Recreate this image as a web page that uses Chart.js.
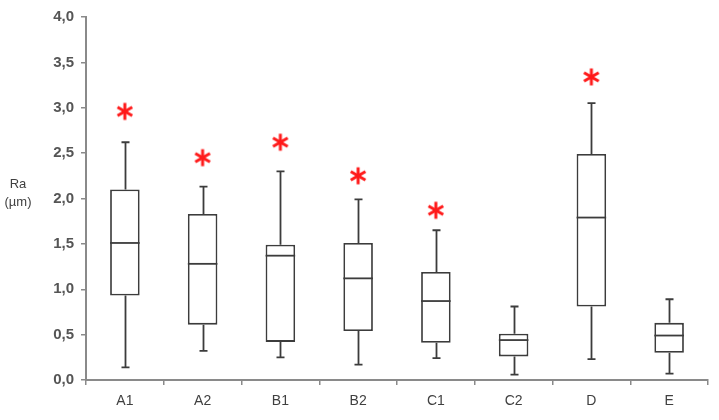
<!DOCTYPE html>
<html>
<head>
<meta charset="utf-8">
<script src="https://cdn.jsdelivr.net/npm/chart.js@4/dist/chart.umd.min.js"></script>
<style>
  html, body { margin: 0; padding: 0; background: #fff; }
  #wrap { width: 719px; height: 420px; }
</style>
</head>
<body>
<div id="wrap"><canvas id="chart" width="719" height="420"></canvas></div>
<script>
// Dados (Ra em µm)
const categorias = ['A1', 'A2', 'B1', 'B2', 'C1', 'C2', 'D', 'E'];
const minimos   = [0.14, 0.32, 0.25, 0.17, 0.24, 0.06, 0.23, 0.07];
const quartil1  = [0.93, 0.61, 0.42, 0.54, 0.41, 0.26, 0.81, 0.30];
const medianas  = [1.51, 1.28, 1.37, 1.12, 0.87, 0.44, 1.79, 0.49];
const quartil3  = [2.10, 1.83, 1.49, 1.51, 1.19, 0.51, 2.49, 0.63];
const maximos   = [2.62, 2.13, 2.30, 1.99, 1.65, 0.81, 3.05, 0.89];
const asteriscos = [2.96, 2.45, 2.62, 2.25, 1.87, null, 3.34, null];

const corLinha = '#3c3c3c';
const corEixo = '#8a8a8a';

// Marcador em forma de asterisco
function criaAsterisco() {
    const c = document.createElement('canvas');
    c.width = 22; c.height = 22;
    const g = c.getContext('2d');
    g.strokeStyle = '#ff1a1a';
    g.lineWidth = 3;
    g.lineCap = 'butt';
    const r = 8.5;
    [90, 30, 150].forEach(ang => {
        const a = ang * Math.PI / 180;
        g.beginPath();
        g.moveTo(11 - r * Math.cos(a), 11 - r * Math.sin(a));
        g.lineTo(11 + r * Math.cos(a), 11 + r * Math.sin(a));
        g.stroke();
    });
    return c;
}

// Bigodes e medianas
const boxPlugin = {
    id: 'boxes',
    beforeDatasetsDraw(chart) {
        const ctx = chart.ctx;
        const y = chart.scales.y;
        const meta = chart.getDatasetMeta(0);
        ctx.save();
        ctx.strokeStyle = corLinha;
        ctx.lineWidth = 1.8;
        meta.data.forEach((bar, i) => {
            const x = Math.round(bar.x) + 0.5;
            const yMin = y.getPixelForValue(minimos[i]);
            const yMax = y.getPixelForValue(maximos[i]);
            const yQ1 = y.getPixelForValue(quartil1[i]);
            const yQ3 = y.getPixelForValue(quartil3[i]);
            ctx.beginPath();
            ctx.moveTo(x, yMax); ctx.lineTo(x, yQ3);
            ctx.moveTo(x, yQ1); ctx.lineTo(x, yMin);
            ctx.moveTo(x - 4, yMax); ctx.lineTo(x + 4, yMax);
            ctx.moveTo(x - 4, yMin); ctx.lineTo(x + 4, yMin);
            ctx.stroke();
        });
        ctx.restore();
    },
    afterDatasetsDraw(chart) {
        const ctx = chart.ctx;
        const y = chart.scales.y;
        const meta = chart.getDatasetMeta(0);
        ctx.save();
        ctx.strokeStyle = corLinha;
        ctx.lineWidth = 1.8;
        meta.data.forEach((bar, i) => {
            const ym = y.getPixelForValue(medianas[i]);
            ctx.beginPath();
            ctx.moveTo(bar.x - bar.width / 2, ym);
            ctx.lineTo(bar.x + bar.width / 2, ym);
            ctx.stroke();
        });
        // título do eixo Y, na horizontal
        ctx.fillStyle = '#404040';
        ctx.font = '13px "Liberation Sans", Arial, sans-serif';
        ctx.textAlign = 'center';
        ctx.textBaseline = 'middle';
        ctx.fillText('Ra', 18, 184);
        ctx.fillText('(µm)', 18, 202);
        ctx.restore();
    }
};

const ctx = document.getElementById('chart').getContext('2d');
new Chart(ctx, {
    data: {
        labels: categorias,
        datasets: [{
            type: 'bar',
            data: quartil1.map((q, i) => [q, quartil3[i]]),
            backgroundColor: '#ffffff',
            borderColor: corLinha,
            borderWidth: 1.8,
            borderSkipped: false,
            categoryPercentage: 1,
            barPercentage: 0.38,
            order: 2
        }, {
            type: 'line',
            data: asteriscos,
            showLine: false,
            pointStyle: criaAsterisco(),
            pointRadius: 10,
            order: 1
        }]
    },
    options: {
        responsive: false,
        animation: false,
        layout: { padding: { top: 17, right: 10, left: 0, bottom: 0 } },
        plugins: {
            legend: { display: false },
            tooltip: { enabled: false }
        },
        scales: {
            x: {
                afterFit: s => { s.height = 40; },
                grid: {
                    offset: true,
                    drawOnChartArea: false,
                    drawTicks: true,
                    tickLength: 5,
                    color: corEixo,
                    lineWidth: 1.5
                },
                border: { color: corEixo, width: 2 },
                ticks: {
                    color: '#404040',
                    padding: 8,
                    font: { family: '"Liberation Sans", Arial, sans-serif', size: 14 }
                }
            },
            y: {
                min: 0,
                max: 4,
                afterFit: s => { s.width = 86; },
                grid: {
                    drawOnChartArea: false,
                    drawTicks: true,
                    tickLength: 5,
                    color: corEixo,
                    lineWidth: 1.5
                },
                border: { color: corEixo, width: 2 },
                ticks: {
                    stepSize: 0.5,
                    color: '#555555',
                    padding: 7,
                    font: { family: '"Liberation Sans", Arial, sans-serif', size: 15, weight: 'bold' },
                    callback: v => v.toFixed(1).replace('.', ',')
                }
            }
        }
    },
    plugins: [boxPlugin]
});
</script>
</body>
</html>
